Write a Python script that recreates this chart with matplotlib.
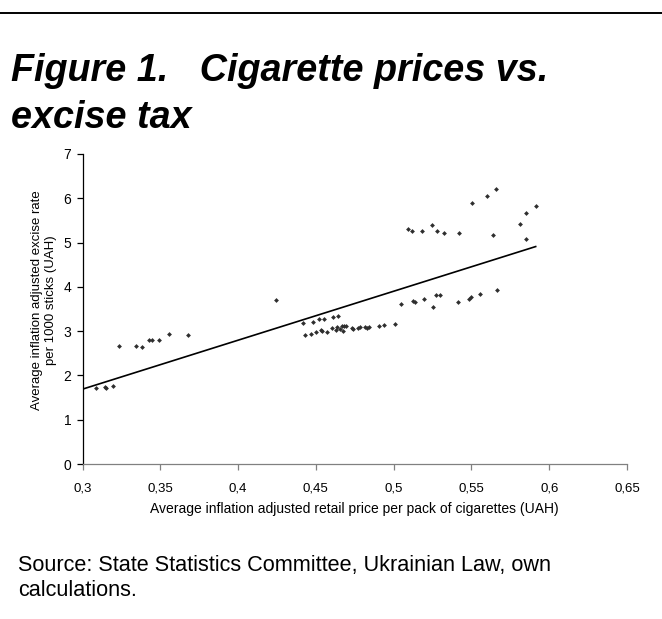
import matplotlib
matplotlib.use("Agg")
import matplotlib.pyplot as plt
from matplotlib.ticker import FuncFormatter

# Average inflation-adjusted retail price per pack (UAH)
price = [
    0.3087, 0.3145, 0.3149, 0.3194,
    0.3233, 0.3342, 0.3384, 0.3425, 0.3447, 0.3492, 0.3558, 0.3680,
    0.4242,
    0.4415, 0.4430, 0.4468, 0.4483, 0.4499, 0.4518, 0.4535, 0.4541, 0.4550,
    0.4570, 0.4606, 0.4610, 0.4629, 0.4636, 0.4642, 0.4655, 0.4666, 0.4676,
    0.4682, 0.4693, 0.4732, 0.4740, 0.4771, 0.4783, 0.4816, 0.4827, 0.4840,
    0.4904, 0.4940, 0.5011,
    0.5049, 0.5126, 0.5135, 0.5195, 0.5251, 0.5274, 0.5300, 0.5411, 0.5484,
    0.5497, 0.5555, 0.5662,
    0.5094, 0.5118, 0.5182, 0.5244, 0.5276, 0.5321, 0.5418, 0.5501, 0.5600,
    0.5638, 0.5659, 0.5810, 0.5849, 0.5851, 0.5913,
]

# Average inflation-adjusted excise rate per 1000 sticks (UAH)
excise = [
    1.71, 1.73, 1.71, 1.76,
    2.66, 2.66, 2.65, 2.79, 2.79, 2.79, 2.93, 2.92,
    3.70,
    3.18, 2.91, 2.94, 3.21, 2.97, 3.28, 3.03, 3.01, 3.28,
    2.99, 3.07, 3.33, 3.03, 3.09, 3.35, 3.04, 3.12, 3.01,
    3.12, 3.12, 3.06, 3.04, 3.06, 3.09, 3.09, 3.08, 3.09,
    3.12, 3.14, 3.16,
    3.61, 3.67, 3.66, 3.73, 3.55, 3.82, 3.82, 3.66, 3.73,
    3.77, 3.83, 3.94,
    5.31, 5.26, 5.26, 5.39, 5.25, 5.21, 5.21, 5.89, 6.06,
    5.16, 6.21, 5.43, 5.09, 5.66, 5.83,
]

# Linear trend line end points
trend_x = [0.300, 0.5913]
trend_y = [1.69, 4.91]

x_ticks = [0.30, 0.35, 0.40, 0.45, 0.50, 0.55, 0.60, 0.65]
y_ticks = [0, 1, 2, 3, 4, 5, 6, 7]

title_lines = ["Figure 1.   Cigarette prices vs.", "excise tax"]
x_label = "Average inflation adjusted retail price per pack of cigarettes (UAH)"
y_label = "Average inflation adjusted excise rate\nper 1000 sticks (UAH)"
source_lines = ["Source: State Statistics Committee, Ukrainian Law, own",
                "calculations."]

W, H = 662, 619
fig = plt.figure(figsize=(W / 100, H / 100), dpi=100)
fig.patch.set_facecolor("white")

sans = ["Liberation Sans", "DejaVu Sans"]

# Rule across the top of the page
fig.add_artist(plt.Line2D([0, 1], [1 - 13 / H, 1 - 13 / H], color="black",
                          lw=1.4, transform=fig.transFigure))

# Two-line heading
for text, base in zip(title_lines, (81, 128)):
    fig.text(11 / W, 1 - base / H, text, family=sans, fontsize=27.2,
             fontweight="bold", fontstyle="italic", va="baseline")

ax = fig.add_axes([82.5 / W, 1 - 464 / H, (627 - 82.5) / W, (464 - 154) / H])
ax.scatter(price, excise, marker="D", s=6, color="#2e2e2e", linewidths=0, zorder=3)
ax.plot(trend_x, trend_y, color="black", lw=1.2, zorder=2)

ax.set_xlim(0.3, 0.65)
ax.set_ylim(0, 7)
ax.set_xticks(x_ticks)
ax.set_yticks(y_ticks)


def comma_fmt(v, pos):
    s = f"{v:.2f}".rstrip("0").rstrip(".")
    return s.replace(".", ",")


ax.xaxis.set_major_formatter(FuncFormatter(comma_fmt))
ax.yaxis.set_major_formatter(FuncFormatter(lambda v, p: f"{int(round(v))}"))

for side in ("top", "right"):
    ax.spines[side].set_visible(False)
ax.spines["left"].set_color("black")
ax.spines["left"].set_linewidth(0.9)
ax.spines["bottom"].set_color("#808080")
ax.spines["bottom"].set_linewidth(0.9)

ax.tick_params(axis="y", direction="out", length=4, width=0.9, color="black",
               pad=4, labelsize=10)
ax.tick_params(axis="x", direction="out", length=4, width=0.9, color="#808080",
               pad=9, labelsize=9.5)
for lab in ax.get_xticklabels() + ax.get_yticklabels():
    lab.set_family(sans)

ax.set_xlabel(x_label, family=sans, fontsize=10, labelpad=6)
ax.set_ylabel(y_label, family=sans, fontsize=9.5)
ax.yaxis.set_label_coords(-0.047, 0.53)

# Source note
for text, base in zip(source_lines, (571, 596)):
    fig.text(18 / W, 1 - base / H, text, family=sans, fontsize=15.6,
             va="baseline")

fig.savefig("out.png", dpi=100, facecolor="white")
